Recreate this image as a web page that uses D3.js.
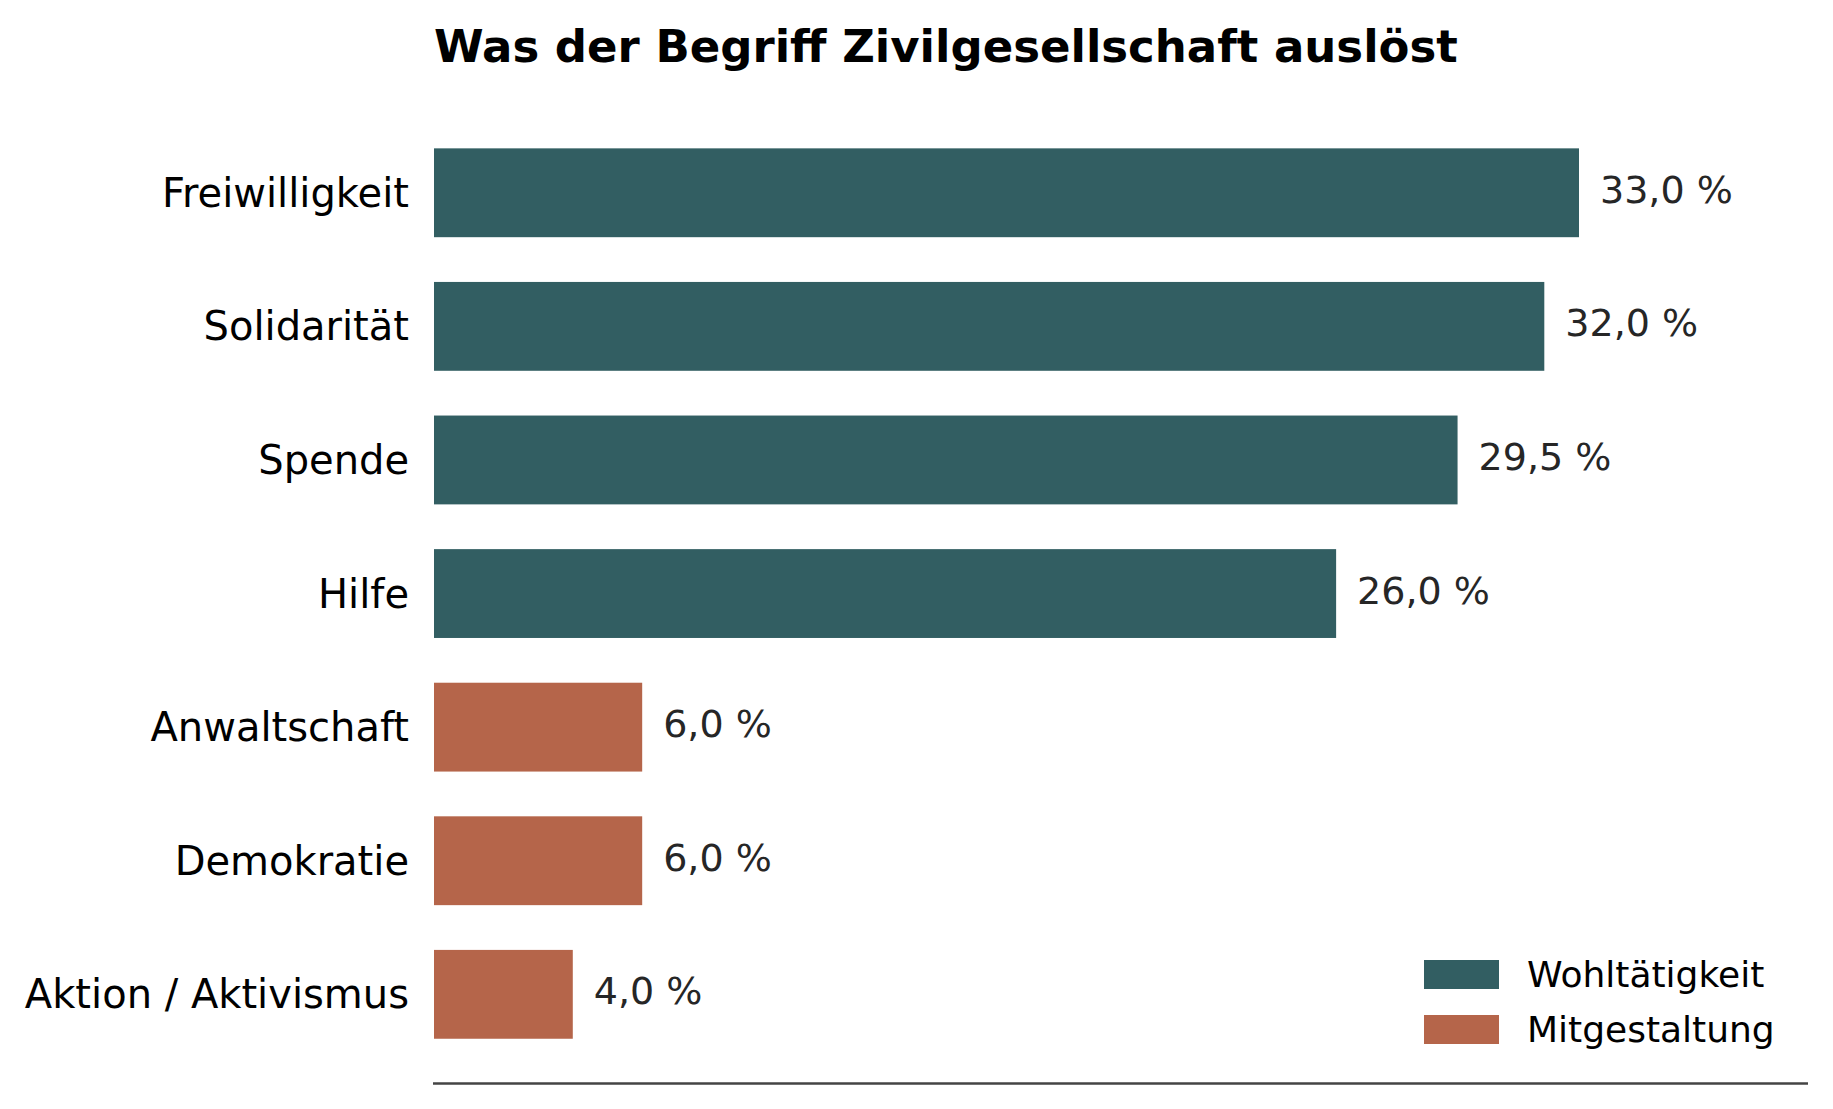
<!DOCTYPE html>
<html>
<head>
<meta charset="utf-8">
<script src="https://cdn.jsdelivr.net/npm/d3@7"></script>
<style>
  body { margin: 0; background: #fff; }
  svg { display: block; font-family: "DejaVu Sans", sans-serif; }
</style>
</head>
<body>
<svg id="chart" width="1833" height="1109"></svg>
<script>
// data
const categories = ["Freiwilligkeit", "Solidarität", "Spende", "Hilfe", "Anwaltschaft", "Demokratie", "Aktion / Aktivismus"]
const values = [33.0, 32.0, 29.5, 26.0, 6.0, 6.0, 4.0]
const groups = ["Wohltätigkeit", "Wohltätigkeit", "Wohltätigkeit", "Wohltätigkeit", "Mitgestaltung", "Mitgestaltung", "Mitgestaltung"]
const legendItems = ["Wohltätigkeit", "Mitgestaltung"]
const title = "Was der Begriff Zivilgesellschaft auslöst"

const c_teal = "#325e62", c_rust = "#b5654a"

const svg = d3.select("#chart")

const x = d3.scaleLinear()
  .domain([0, d3.max(values) * 1.2])
  .range([434, 1808])

const y = d3.scaleBand()
  .domain(categories)
  .range([103.6, 1083.5])
  .padding(0.335)

const color = d3.scaleOrdinal()
  .domain(legendItems)
  .range([c_teal, c_rust])

const rows = categories.map((c, i) => ({cat: c, value: values[i], group: groups[i]}))

// TITLE
svg.append("text")
  .attr("x", 434)
  .attr("y", 62)
  .attr("font-size", 45)
  .attr("font-weight", "bold")
  .attr("fill", "#000")
  .text(title)

// BARS
svg.append("g")
  .selectAll("rect")
  .data(rows)
  .join("rect")
    .attr("x", x(0))
    .attr("y", d => y(d.cat))
    .attr("width", d => x(d.value) - x(0))
    .attr("height", y.bandwidth())
    .attr("fill", d => color(d.group))

// category labels
svg.append("g")
  .selectAll("text")
  .data(rows)
  .join("text")
    .attr("x", x(0) - 25)
    .attr("y", d => y(d.cat) + y.bandwidth() / 2 + 14)
    .attr("text-anchor", "end")
    .attr("font-size", 40)
    .attr("fill", "#000")
    .text(d => d.cat)

// value labels
const fmt = v => v.toFixed(1).replace(".", ",") + " %"
svg.append("g")
  .selectAll("text")
  .data(rows)
  .join("text")
    .attr("x", d => x(d.value) + 21)
    .attr("y", d => y(d.cat) + y.bandwidth() / 2 + 10)
    .attr("font-size", 38)
    .attr("fill", "#262626")
    .text(d => fmt(d.value))

// bottom axis line
svg.append("line")
  .attr("x1", x.range()[0] - 1)
  .attr("x2", x.range()[1])
  .attr("y1", 1083.5)
  .attr("y2", 1083.5)
  .attr("stroke", "#444")
  .attr("stroke-width", 2.6)

// LEGEND
const legend = svg.append("g")
  .selectAll("g")
  .data(legendItems)
  .join("g")
    .attr("transform", (d, i) => `translate(1424, ${960 + i * 55})`)

legend.append("rect")
  .attr("width", 75)
  .attr("height", 29)
  .attr("fill", d => color(d))

legend.append("text")
  .attr("x", 103)
  .attr("y", 27)
  .attr("font-size", 36)
  .attr("fill", "#000")
  .text(d => d)
</script>
</body>
</html>
